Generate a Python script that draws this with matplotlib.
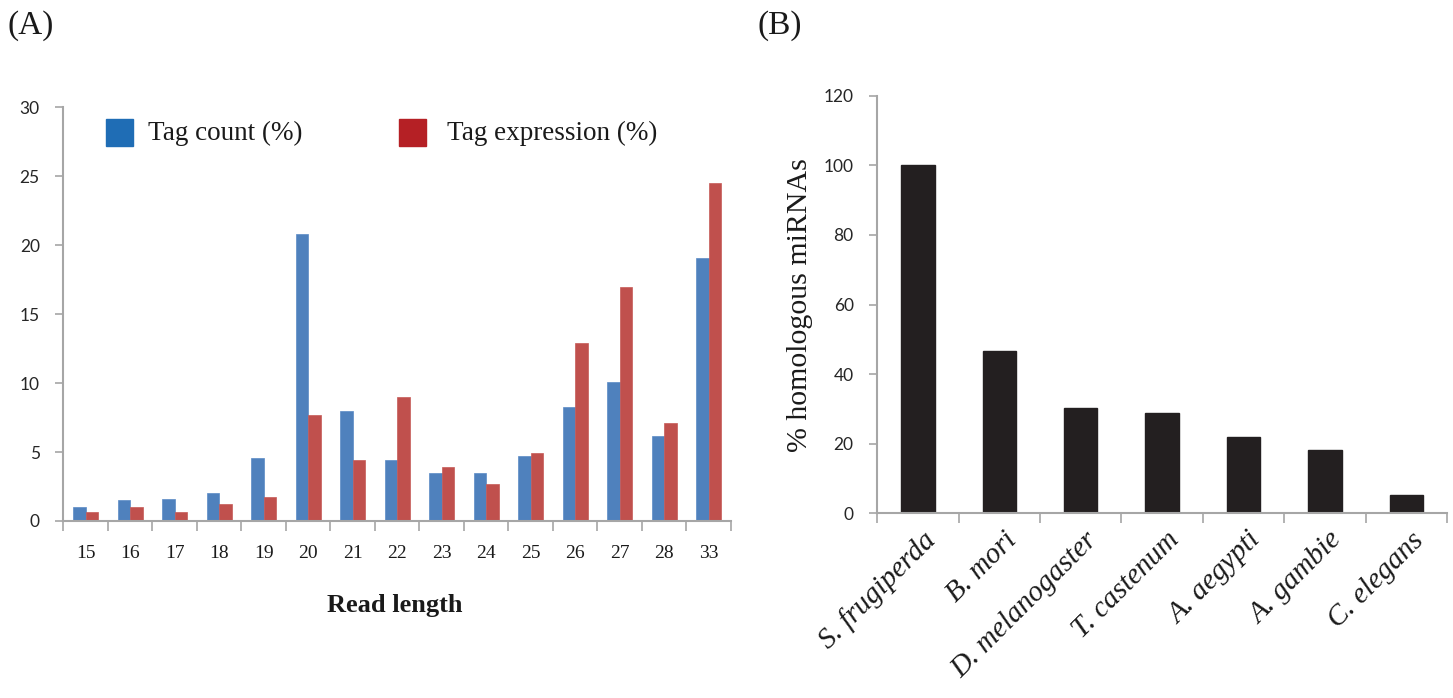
import matplotlib
matplotlib.use("Agg")
import matplotlib.pyplot as plt
import numpy as np
from matplotlib.patches import Rectangle

# ---- Data ----
read_lengths = ["15", "16", "17", "18", "19", "20", "21", "22", "23", "24", "25", "26", "27", "28", "33"]
tag_count = [1.0, 1.5, 1.6, 2.05, 4.6, 20.8, 8.0, 4.4, 3.45, 3.45, 4.7, 8.25, 10.05, 6.2, 19.1]
tag_expression = [0.68, 1.0, 0.68, 1.2, 1.75, 7.7, 4.4, 9.0, 3.9, 2.7, 4.95, 12.9, 17.0, 7.1, 24.5]

species = ["S. frugiperda", "B. mori", "D. melanogaster", "T. castenum",
           "A. aegypti", "A. gambie", "C. elegans"]
homologous = [100, 46.5, 30.4, 28.7, 22.0, 18.2, 5.2]

series_labels = ["Tag count (%)", "Tag expression (%)"]

# ---- Style ----
BLUE_BAR = "#4F81BD"
RED_BAR = "#C0504D"
BLUE_LEG = "#1F6DB5"
RED_LEG = "#B52025"
AXIS_GRAY = "#A6A6A6"
SANS = ["Lato", "DejaVu Sans"]
SERIF = ["Liberation Serif", "DejaVu Serif"]

fig = plt.figure(figsize=(14.53, 6.98), dpi=100)

# ---------------- Panel A ----------------
axA = fig.add_axes([0.0436, 0.2536, 0.4594, 0.5924])
x = np.arange(len(read_lengths))
w = 0.28
axA.bar(x - w / 2, tag_count, width=w, color=BLUE_BAR, edgecolor="#5A8AC6", linewidth=0.5)
axA.bar(x + w / 2, tag_expression, width=w, color=RED_BAR, edgecolor="#C65A57", linewidth=0.5)
axA.set_xlim(-0.5, len(read_lengths) - 0.5)
axA.set_ylim(0, 30)
axA.set_yticks(np.arange(0, 31, 5))
axA.set_xticks(np.arange(-0.5, len(read_lengths), 1.0))
axA.set_xticklabels([])
axA.set_xticks(x, minor=True)
axA.set_xticklabels(read_lengths, minor=True, fontfamily=SERIF, fontsize=14, color="#1a1a1a")
axA.tick_params(axis="x", which="major", direction="out", length=7, width=1.2, color=AXIS_GRAY)
axA.tick_params(axis="x", which="minor", length=0, pad=17)
axA.tick_params(axis="y", direction="out", length=6, width=1.2, color=AXIS_GRAY,
                labelsize=12.5, labelcolor="#262626", pad=11)
for lab in axA.get_yticklabels():
    lab.set_fontfamily(SANS)
for s in ["top", "right"]:
    axA.spines[s].set_visible(False)
for s in ["left", "bottom"]:
    axA.spines[s].set_color(AXIS_GRAY)
    axA.spines[s].set_linewidth(1.5)

# legend drawn as in the original (squares + serif text)
for (x0, x1, tx), col, lab in zip([(0.064, 0.104, 0.127), (0.503, 0.544, 0.574)],
                                  [BLUE_LEG, RED_LEG], series_labels):
    axA.add_patch(Rectangle((x0, 0.907), x1 - x0, 0.065, transform=axA.transAxes,
                            facecolor=col, edgecolor=col, clip_on=False))
    axA.text(tx, 0.937, lab, transform=axA.transAxes, ha="left", va="center",
             fontfamily=SERIF, fontsize=19.5, color="#1a1a1a")

fig.text(0.272, 0.133, "Read length", ha="center", va="center",
         fontfamily=SERIF, fontsize=19, fontweight="bold", color="#1a1a1a")
fig.text(0.005, 0.964, "(A)", ha="left", va="center", fontfamily=SERIF, fontsize=24, color="#1a1a1a")

# ---------------- Panel B ----------------
axB = fig.add_axes([0.6038, 0.2646, 0.392, 0.5983])
xb = np.arange(len(species))
axB.bar(xb, homologous, width=0.41, color="#231F20", edgecolor="#231F20")
axB.set_xlim(-0.5, len(species) - 0.5)
axB.set_ylim(0, 120)
axB.set_yticks(np.arange(0, 121, 20))
axB.set_xticks(np.arange(-0.5, len(species), 1.0))
axB.set_xticklabels([])
axB.set_xticks(xb + 0.05, minor=True)
axB.set_xticklabels(species, minor=True, fontfamily=SERIF, fontstyle="italic",
                    fontsize=21, rotation=45, ha="right", va="top",
                    rotation_mode="anchor", color="#1a1a1a")
axB.tick_params(axis="x", which="major", direction="out", length=7, width=1.2, color=AXIS_GRAY)
axB.tick_params(axis="x", which="minor", length=0, pad=10)
axB.tick_params(axis="y", direction="out", length=6, width=1.2, color=AXIS_GRAY,
                labelsize=12.5, labelcolor="#262626", pad=11)
for lab in axB.get_yticklabels():
    lab.set_fontfamily(SANS)
for s in ["top", "right"]:
    axB.spines[s].set_visible(False)
for s in ["left", "bottom"]:
    axB.spines[s].set_color(AXIS_GRAY)
    axB.spines[s].set_linewidth(1.5)

fig.text(0.5506, 0.563, "% homologous miRNAs", ha="center", va="center", rotation=90,
         fontfamily=SERIF, fontsize=21.5, color="#1a1a1a")
fig.text(0.521, 0.964, "(B)", ha="left", va="center", fontfamily=SERIF, fontsize=24, color="#1a1a1a")

fig.savefig("out.png", dpi=100, facecolor="white")
